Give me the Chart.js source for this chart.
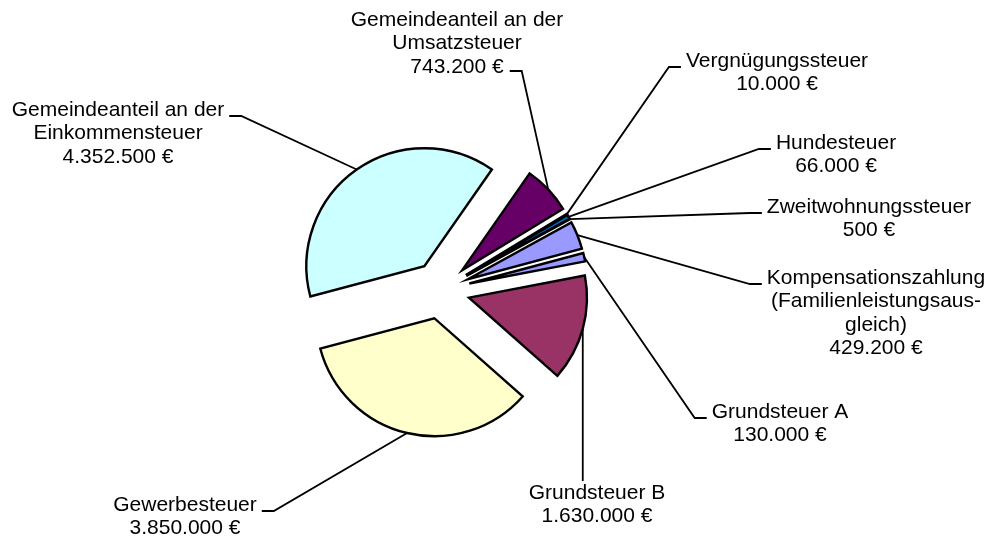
<!DOCTYPE html>
<html>
<head>
<meta charset="utf-8">
<script src="https://cdn.jsdelivr.net/npm/chart.js@4/dist/chart.umd.min.js"></script>
<style>
  html, body { margin: 0; padding: 0; background: #fff; }
</style>
</head>
<body>
<canvas id="chart" width="989" height="538"></canvas>
<script>
'use strict'

// data in the order the slices run clockwise (Excel series order)
var categories = [
  ['Grundsteuer A'],
  ['Grundsteuer B'],
  ['Gewerbesteuer'],
  ['Gemeindeanteil an der', 'Einkommensteuer'],
  ['Gemeindeanteil an der', 'Umsatzsteuer'],
  ['Vergnügungssteuer'],
  ['Hundesteuer'],
  ['Zweitwohnungssteuer'],
  ['Kompensationszahlung', '(Familienleistungsaus-', 'gleich)']
];
var amounts = [130000, 1630000, 3850000, 4352500, 743200, 10000, 66000, 500, 429200];

var sliceColors = ['#9999FF', '#993366', '#FFFFCC', '#CCFFFF', '#660066', '#FF8080', '#0066CC', '#CCCCFF', '#9999FF'];

// label layout: text centre x, first line y, where the leader attaches
var labelSpots = [
  [780, 412, 'left'],
  [597, 493, 'top'],
  [185, 505, 'right'],
  [118, 110, 'right'],
  [457, 20, 'lastRight'],
  [777, 61, 'left'],
  [836, 143, 'left'],
  [869, 207, 'left'],
  [876, 278, 'left']
];

var EXPLODE = 29;
var FONT = "21px 'Liberation Sans', Arial, sans-serif";
var LINE_H = 23.5;

function euro(v) {
  return String(v).replace(/\B(?=(\d{3})+(?!\d))/g, '.') + ' €';
}

// pull every slice out by the same distance (chart.js offset also grows thin slices)
var explodePlugin = {
  id: 'evenExplode',
  beforeDatasetDraw: function(chart, args) {
    var ctx = chart.ctx;
    args.meta.data.forEach(function(arc) {
      var mid = (arc.startAngle + arc.endAngle) / 2;
      ctx.save();
      ctx.translate(Math.cos(mid) * EXPLODE, Math.sin(mid) * EXPLODE);
      arc.draw(ctx);
      ctx.restore();
    });
    return false;
  }
};

var labelPlugin = {
  id: 'pieLabels',
  afterDatasetsDraw: function(chart) {
    var ctx = chart.ctx;
    var meta = chart.getDatasetMeta(0);
    ctx.save();
    ctx.font = FONT;
    ctx.fillStyle = '#000';
    ctx.strokeStyle = '#000';
    ctx.lineWidth = 1.8;
    ctx.textAlign = 'center';
    ctx.textBaseline = 'middle';
    meta.data.forEach(function(arc, i) {
      var mid = (arc.startAngle + arc.endAngle) / 2;
      var r = arc.outerRadius + EXPLODE;
      var ax = arc.x + Math.cos(mid) * r;
      var ay = arc.y + Math.sin(mid) * r;
      var lines = categories[i].concat([euro(amounts[i])]);
      var cx = labelSpots[i][0], y1 = labelSpots[i][1], side = labelSpots[i][2];
      var w, ex, ey, sx;

      ctx.beginPath();
      ctx.moveTo(ax, ay);
      if (side === 'top') {
        ctx.lineTo(ax, y1 - 12);
      } else {
        if (side === 'left') {
          w = ctx.measureText(lines[0]).width;
          ex = cx - w / 2 - 5;
          ey = y1 + 6;
          sx = ex - 12;
        } else if (side === 'right') {
          w = ctx.measureText(lines[0]).width;
          ex = cx + w / 2 + 5;
          ey = y1 + 6;
          sx = ex + 12;
        } else {
          w = ctx.measureText(lines[lines.length - 1]).width;
          ex = cx + w / 2 + 6;
          ey = y1 + (lines.length - 1) * LINE_H + 4;
          sx = ex + 12;
        }
        ctx.lineTo(sx, ey);
        ctx.lineTo(ex, ey);
      }
      ctx.stroke();

      for (var k = 0; k < lines.length; k++) {
        ctx.fillText(lines[k], cx, y1 + k * LINE_H);
      }
    });
    ctx.restore();
  }
};

var canvas = document.getElementById('chart');
var ctx = canvas.getContext('2d');

var chart = new Chart(ctx, {
  type: 'pie',
  data: {
    labels: categories.map(function(c) { return c.join(' '); }),
    datasets: [{
      data: amounts,
      backgroundColor: sliceColors,
      borderColor: '#000',
      borderWidth: 2.4,
      borderJoinStyle: 'miter',
      offset: 0,
      hoverOffset: 0
    }]
  },
  options: {
    responsive: false,
    animation: false,
    rotation: 75,
    radius: 118,
    layout: {
      padding: { left: 0, right: 107, top: 42, bottom: 0 }
    },
    plugins: {
      legend: { display: false },
      tooltip: { enabled: false }
    },
    events: []
  },
  plugins: [explodePlugin, labelPlugin]
});
</script>
</body>
</html>
